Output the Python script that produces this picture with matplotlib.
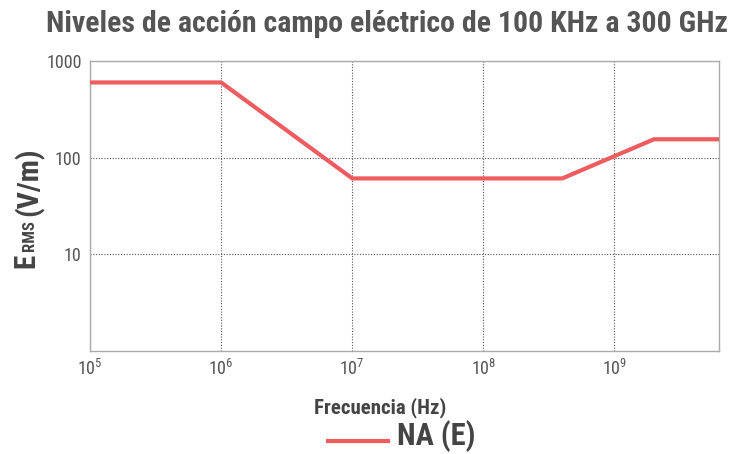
import matplotlib
matplotlib.use("Agg")
import matplotlib.pyplot as plt
from matplotlib import font_manager as fm
from matplotlib.ticker import FixedLocator, NullLocator

# ---- data ----
freq_hz = [1e5, 1e6, 1e7, 4e8, 2e9, 6.3e9]
e_rms = [600, 600, 61, 61, 155, 155]
x_ticks = [1e5, 1e6, 1e7, 1e8, 1e9]
x_tick_labels = [r"$10^{5}$", r"$10^{6}$", r"$10^{7}$", r"$10^{8}$", r"$10^{9}$"]
y_ticks = [10, 100, 1000]
y_tick_labels = ["10", "100", "1000"]
series_name = "NA (E)"
title = "Niveles de acción campo eléctrico de 100 KHz a 300 GHz"
xlabel = "Frecuencia (Hz)"

names = {f.name for f in fm.fontManager.ttflist}
cands = ["Roboto Condensed", "Liberation Sans Narrow", "Liberation Sans"]
narrow = next((c for c in cands if c in names), "DejaVu Sans")

plt.rcParams['font.family'] = [narrow, 'DejaVu Sans']
plt.rcParams['mathtext.fontset'] = 'custom'
plt.rcParams['mathtext.rm'] = narrow
plt.rcParams['mathtext.it'] = narrow

fig = plt.figure(figsize=(7.32, 4.54), dpi=100)
ax = fig.add_axes([90/732, 1-351/454, (719.3-90)/732, (351-61)/454])

line_color = "#EE5C5F"
ax.plot(freq_hz, e_rms, color=line_color, lw=3.0, solid_joinstyle='miter', zorder=3)
ax.set_xscale('log')
ax.set_yscale('log')
ax.set_xlim(1e5, 6.3e9)
ax.set_ylim(1, 1000)

ax.xaxis.set_major_locator(FixedLocator(x_ticks))
ax.xaxis.set_minor_locator(NullLocator())
ax.yaxis.set_major_locator(FixedLocator(y_ticks))
ax.yaxis.set_minor_locator(NullLocator())
ax.set_xticklabels(x_tick_labels)
ax.set_yticklabels(y_tick_labels)
ax.tick_params(length=0, labelsize=13, colors="#555555", pad=6)
ax.grid(True, which='major', color="#555555", ls=(0, (1, 1.5)), lw=0.8)
for s in ax.spines.values():
    s.set_color("#AAAAAA")
    s.set_linewidth(1.0)

fig.text(387/732, 1-24/454, title, ha='center', va='center', fontsize=21.5, fontweight='bold', color="#555555")
fig.text(380/732, 1-408/454, xlabel, ha='center', va='center', fontsize=15, fontweight='bold', color="#444444")

# y label pieces
fig.text(26/732, 1-261/454, "E", rotation=90, ha='center', va='center', fontsize=21, fontweight='bold', color="#444444")
fig.text(30/732, 1-236/454, "RMS", rotation=90, ha='center', va='center', fontsize=12, fontweight='bold', color="#444444")
fig.text(29/732, 1-182/454, "(V/m)", rotation=90, ha='center', va='center', fontsize=21.5, fontweight='bold', color="#444444")

# legend
fig.lines.append(plt.Line2D([328/732, 388/732], [1-441/454, 1-441/454], color=line_color, lw=3.0, transform=fig.transFigure))
fig.text(397/732, 1-436/454, series_name, ha='left', va='center', fontsize=22, fontweight='bold', color="#444444")

fig.savefig("out.png", dpi=100)
